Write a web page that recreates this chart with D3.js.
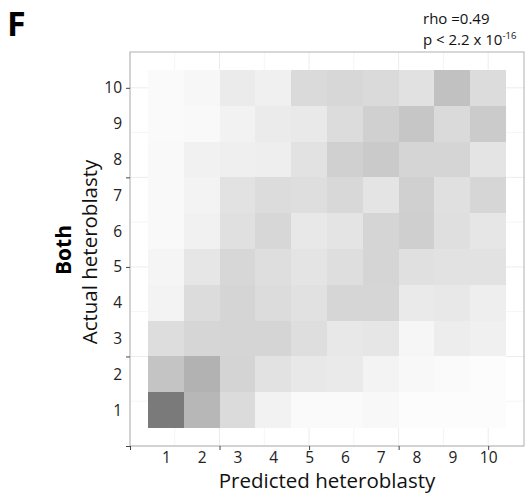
<!DOCTYPE html>
<meta charset="utf-8">
<script src="https://d3js.org/d3.v7.min.js"></script>
<style>
  body { margin: 0; background: #fff; }
  text { font-family: "Open Sans", "Noto Sans", sans-serif; }
</style>
<body>
<svg id="chart" width="529" height="495"></svg>
<script>
// categories
var predicted = [1, 2, 3, 4, 5, 6, 7, 8, 9, 10];
var actual = [1, 2, 3, 4, 5, 6, 7, 8, 9, 10];
// ticks of the underlying continuous axes
var axisTicks = [0, 2.5, 5, 7.5, 10];
var gridMinor = [1.25, 3.75, 6.25, 8.75];

// shading intensity, one row per actual value (1 at bottom), columns = predicted 1..10
var row1  = [133, 72, 36, 13, 5, 5, 7, 3, 3, 3];
var row2  = [59, 77, 43, 29, 23, 21, 12, 7, 5, 3];
var row3  = [34, 41, 42, 42, 33, 23, 25, 9, 18, 15];
var row4  = [12, 35, 42, 35, 30, 41, 41, 21, 23, 17];
var row5  = [10, 25, 40, 33, 27, 33, 42, 31, 29, 29];
var row6  = [6, 14, 31, 40, 23, 27, 42, 48, 32, 25];
var row7  = [6, 12, 29, 35, 33, 39, 27, 47, 31, 41];
var row8  = [6, 14, 16, 17, 29, 47, 53, 42, 42, 27];
var row9  = [5, 6, 13, 20, 22, 35, 47, 57, 37, 52];
var row10 = [5, 8, 20, 15, 37, 40, 37, 30, 62, 35];
var rows = [row1, row2, row3, row4, row5, row6, row7, row8, row9, row10];

var svg = d3.select("#chart"),
    margin = {top: 52, right: 5, bottom: 49, left: 130},
    width = +svg.attr("width") - margin.left - margin.right,
    height = +svg.attr("height") - margin.top - margin.bottom,
    g = svg.append("g").attr("transform", "translate(" + margin.left + "," + margin.top + ")");

var x = d3.scaleLinear().domain([0, 11]).range([0, width]);
var y = d3.scaleLinear().domain([0, 11]).range([height, 0]);
var color = d3.scaleLinear().domain([0, 133]).range(["#ffffff", "#7a7a7a"]);

// grid lines
g.selectAll(".vgrid").data(axisTicks.concat(gridMinor)).enter().append("line")
    .attr("x1", function(d) { return x(d); }).attr("x2", function(d) { return x(d); })
    .attr("y1", 0).attr("y2", height)
    .attr("stroke", function(d) { return axisTicks.indexOf(d) >= 0 ? "#ececec" : "#f5f5f5"; });
g.selectAll(".hgrid").data(axisTicks.concat(gridMinor)).enter().append("line")
    .attr("y1", function(d) { return y(d); }).attr("y2", function(d) { return y(d); })
    .attr("x1", 0).attr("x2", width)
    .attr("stroke", function(d) { return axisTicks.indexOf(d) >= 0 ? "#ececec" : "#f5f5f5"; });

// cells
var cells = [];
rows.forEach(function(r, i) {
  r.forEach(function(v, j) { cells.push({a: actual[i], p: predicted[j], v: v}); });
});
g.selectAll(".cell").data(cells).enter().append("rect")
    .attr("x", function(d) { return x(d.p - 0.5); })
    .attr("y", function(d) { return y(d.a + 0.5); })
    .attr("width", x(1) - x(0))
    .attr("height", y(0) - y(1))
    .attr("fill", function(d) { return color(d.v); })
    .attr("shape-rendering", "crispEdges");

// panel border
g.append("rect")
    .attr("width", width).attr("height", height)
    .attr("fill", "none").attr("stroke", "#b0b0b0");

// tick marks
var xTicks = g.append("g")
    .attr("transform", "translate(0," + height + ")")
    .call(d3.axisBottom(x).tickValues(axisTicks).tickSize(4).tickFormat(""));
var yTicks = g.append("g")
    .call(d3.axisLeft(y).tickValues(axisTicks).tickSize(4).tickFormat(""));
xTicks.select(".domain").remove();
yTicks.select(".domain").remove();
g.selectAll(".tick line").attr("stroke", "#444");

// category labels
var xLab = g.append("g")
    .attr("transform", "translate(0," + height + ")")
    .call(d3.axisBottom(x).tickValues(predicted).tickSize(0).tickPadding(6));
var yLab = g.append("g")
    .call(d3.axisLeft(y).tickValues(actual).tickSize(0).tickPadding(8));
xLab.select(".domain").remove();
yLab.select(".domain").remove();
g.selectAll(".tick text").attr("font-size", 15.5).attr("fill", "#222")
    .attr("font-family", "'Open Sans', sans-serif");

// axis titles
svg.append("text")
    .attr("x", margin.left + width / 2).attr("y", 488)
    .attr("text-anchor", "middle").attr("font-size", 20.5).attr("fill", "#111")
    .text("Predicted heteroblasty");
svg.append("text")
    .attr("transform", "translate(97," + 252 + ") rotate(-90)")
    .attr("text-anchor", "middle").attr("font-size", 20.5).attr("fill", "#111")
    .text("Actual heteroblasty");
svg.append("text")
    .attr("transform", "translate(71," + 250 + ") rotate(-90)")
    .attr("text-anchor", "middle").attr("font-size", 21).attr("font-weight", "bold").attr("fill", "#000")
    .text("Both");

// panel letter
svg.append("text")
    .attr("x", 7).attr("y", 36)
    .attr("font-size", 34).attr("font-weight", "bold").attr("fill", "#000")
    .text("F");

// stats
svg.append("text")
    .attr("x", 423).attr("y", 24)
    .attr("font-size", 15).attr("fill", "#111")
    .text("rho =0.49");
var p = svg.append("text")
    .attr("x", 423).attr("y", 45)
    .attr("font-size", 15).attr("fill", "#111");
p.append("tspan").text("p < 2.2 x 10");
p.append("tspan").attr("dy", -6).attr("font-size", 9.5).text("-16");
</script>
</body>
